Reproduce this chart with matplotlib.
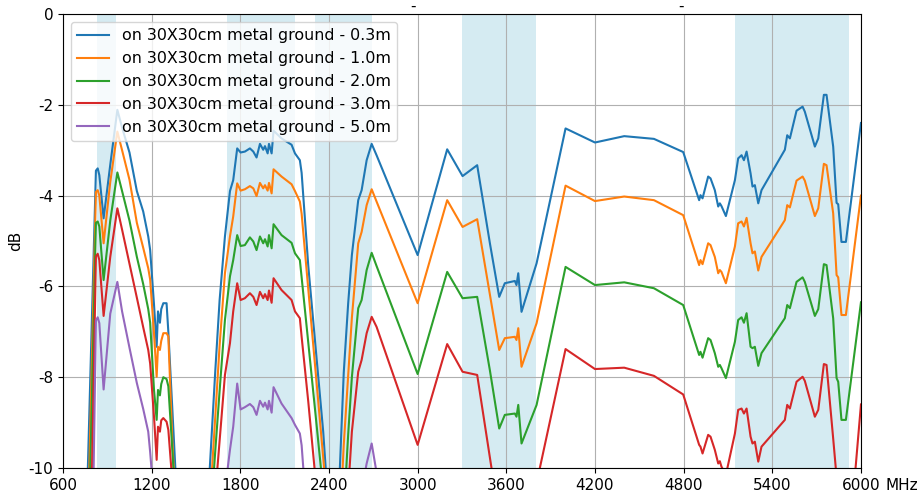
import numpy as np
import matplotlib
matplotlib.use('Agg')
from matplotlib import pyplot as plt

nan = np.nan

# frequency points (MHz) shared by all curves
freq = [760, 823, 835, 846, 875, 920, 968, 1000, 1050, 1100, 1143, 1177, 1190, 1216, 1234, 1243,
        1256, 1265, 1279, 1301, 1313, 1340, 1365, 1480,
        1590, 1630, 1660, 1696, 1730, 1752, 1779, 1802, 1831, 1865, 1888, 1910, 1933, 1955, 1967,
        1985, 1994, 2012, 2025, 2079, 2147, 2170, 2203, 2215, 2260, 2305, 2361, 2384, 2430,
        2470, 2500, 2530, 2555, 2598, 2621, 2655, 2689, 2722, 3000, 3200, 3304, 3403, 3489, 3552,
        3590, 3658, 3669, 3681, 3703, 3805, 4001, 4200, 4398, 4599, 4797, 4905, 4914, 4928, 4966,
        4982, 5011, 5034, 5045, 5056, 5086, 5147, 5169, 5192, 5208, 5226, 5253, 5266, 5282, 5305,
        5327, 5485, 5501, 5519, 5564, 5605, 5620, 5688, 5711, 5749, 5767, 5812, 5835, 5846, 5868,
        5898, 6000]

gain_03m = [-11.0, -3.45, -3.40, -3.55, -4.50, -3.32, -2.11, -2.50, -3.05, -3.90, -4.35, -4.90, -5.20, -6.40, -7.33, -6.55,
            -6.80, -6.50, -6.37, -6.37, -7.00, -8.70, -10.30, nan,
            -10.20, -7.90, -6.30, -4.90, -3.90, -3.66, -2.96, -3.05, -3.03, -2.96, -3.03, -3.16, -2.86, -2.99, -2.91,
            -3.07, -2.86, -3.07, -2.57, -2.74, -2.88, -3.07, -3.22, -3.50, -5.55, -7.18, -9.20, -10.30, nan,
            -10.30, -7.90, -6.37, -5.31, -4.10, -3.88, -3.22, -2.86, -3.11, -5.31, -2.98, -3.57, -3.33, -5.05, -6.23,
            -5.93, -5.88, -5.97, -5.71, -6.56, -5.49, -2.52, -2.83, -2.69, -2.75, -3.04, -4.10, -3.99, -4.06, -3.58,
            -3.62, -3.88, -4.24, -4.17, -4.23, -4.45, -3.66, -3.18, -3.11, -3.22, -3.03, -3.51, -3.80, -3.77, -4.17,
            -3.88, -2.99, -2.67, -2.74, -2.13, -2.04, -2.15, -2.92, -2.74, -1.78, -1.78, -2.92, -4.16, -4.19, -5.02,
            -5.02, -2.40]

gain_10m = [-12.5, -3.92, -3.88, -4.00, -5.05, -3.70, -2.59, -3.00, -3.65, -4.60, -5.15, -5.60, -5.85, -7.03, -7.99, -7.33,
            -7.40, -7.20, -7.03, -7.03, -7.10, -9.40, -11.0, nan,
            -11.0, -8.90, -7.30, -5.71, -4.90, -4.46, -3.73, -3.89, -3.86, -3.79, -3.84, -4.01, -3.72, -3.84, -3.77,
            -3.89, -3.72, -3.95, -3.42, -3.58, -3.75, -3.90, -4.13, -4.40, -6.06, -7.71, -9.77, -10.6, nan,
            -11.5, -9.49, -7.96, -6.69, -5.05, -4.80, -4.21, -3.86, -4.13, -6.37, -4.10, -4.69, -4.52, -6.18, -7.40,
            -7.14, -7.11, -7.18, -6.92, -7.77, -6.81, -3.78, -4.12, -4.02, -4.10, -4.43, -5.53, -5.42, -5.51, -5.05,
            -5.09, -5.35, -5.71, -5.64, -5.68, -5.93, -5.12, -4.61, -4.57, -4.68, -4.49, -5.05, -5.27, -5.23, -5.65,
            -5.35, -4.54, -4.21, -4.26, -3.67, -3.58, -3.67, -4.45, -4.28, -3.30, -3.33, -4.39, -5.75, -5.80, -6.63,
            -6.63, -4.00]

gain_20m = [-13.5, -4.60, -4.57, -4.68, -5.86, -4.55, -3.49, -3.90, -4.55, -5.35, -5.95, -6.50, -6.80, -8.28, -8.94, -8.28,
            -8.40, -8.15, -8.00, -8.04, -8.20, -9.60, -11.0, nan,
            -11.5, -9.65, -8.30, -6.74, -5.78, -5.42, -4.87, -5.11, -5.09, -4.92, -5.01, -5.20, -4.90, -5.05, -4.96,
            -5.12, -4.87, -5.16, -4.63, -4.87, -5.04, -5.27, -5.42, -5.80, -7.24, -8.69, -10.5, nan, nan,
            -12.5, -11.0, -9.26, -8.00, -6.48, -6.30, -5.64, -5.26, -5.55, -7.93, -5.68, -6.26, -6.23, -7.85, -9.13,
            -8.83, -8.80, -8.87, -8.61, -9.46, -8.61, -5.57, -5.97, -5.91, -6.04, -6.41, -7.51, -7.44, -7.57, -7.14,
            -7.18, -7.47, -7.77, -7.73, -7.80, -8.02, -7.22, -6.74, -6.68, -6.80, -6.59, -7.33, -7.36, -7.33, -7.75,
            -7.47, -6.70, -6.41, -6.48, -5.90, -5.80, -5.90, -6.65, -6.50, -5.51, -5.53, -6.70, -8.02, -8.10, -8.94,
            -8.94, -6.35]

gain_30m = [-16.5, -5.34, -5.28, -5.42, -6.65, -5.35, -4.28, -4.75, -5.50, -6.25, -6.90, -7.40, -7.70, -8.87, -9.82, -9.09,
            -9.20, -8.95, -8.90, -8.98, -9.16, -10.3, nan, nan,
            -12.0, -10.6, -9.40, -7.95, -7.25, -6.55, -5.93, -6.30, -6.26, -6.15, -6.23, -6.41, -6.12, -6.26, -6.17,
            -6.30, -6.09, -6.36, -5.82, -6.08, -6.30, -6.55, -6.70, -7.11, -8.54, -10.1, nan, nan, nan,
            nan, -12.0, -10.5, -9.20, -7.88, -7.62, -7.03, -6.67, -6.89, -9.49, -7.27, -7.88, -7.95, -9.77, -11.1,
            nan, nan, nan, nan, nan, -10.33, -7.38, -7.82, -7.79, -7.97, -8.38, -9.49, -9.53, -9.68, -9.27,
            -9.31, -9.60, -9.90, -9.85, -9.97, -10.15, -9.24, -8.72, -8.69, -8.80, -8.69, -9.31, -9.46, -9.42, -9.86,
            -9.53, -8.94, -8.61, -8.69, -8.10, -7.99, -8.08, -8.87, -8.72, -7.71, -7.73, -9.35, -10.2, -10.6, -11.5,
            -12.5, -8.60]

gain_50m = [-20.0, -6.75, -6.68, -6.81, -8.27, -6.60, -5.90, -6.55, -7.35, -8.13, -8.70, -9.20, -9.65, -10.7, nan, nan,
            nan, nan, nan, nan, nan, nan, nan, nan,
            nan, nan, nan, -10.5, -9.60, -9.09, -8.14, -8.71, -8.66, -8.59, -8.66, -8.83, -8.52, -8.65, -8.56,
            -8.71, -8.52, -8.78, -8.22, -8.58, -8.90, -9.05, -9.24, -9.50, -11.5, nan, nan, nan, nan,
            nan, nan, nan, nan, nan, -10.5, -9.90, -9.46, -10.1, nan, nan, nan, nan, nan, nan,
            nan, nan, nan, nan, nan, nan, nan, nan, nan, nan, nan, nan, nan, nan, nan,
            nan, nan, nan, nan, nan, nan, nan, nan, nan, nan, nan, nan, nan, nan, nan,
            nan, nan, nan, nan, nan, nan, nan, nan, nan, nan, nan, nan, nan, nan, nan,
            nan, nan]

labels = ['on 30X30cm metal ground - 0.3m', 'on 30X30cm metal ground - 1.0m',
          'on 30X30cm metal ground - 2.0m', 'on 30X30cm metal ground - 3.0m',
          'on 30X30cm metal ground - 5.0m']

# shaded operating bands (MHz)
bands = [(830, 962), (1712, 2170), (2305, 2690), (3302, 3800), (5150, 5920)]

xticks = [600, 1200, 1800, 2400, 3000, 3600, 4200, 4800, 5400, 6000]
yticks = [0, -2, -4, -6, -8, -10]

plt.rcParams['font.size'] = 11

fig = plt.figure(figsize=(9.22, 4.99), dpi=100)
ax = fig.add_axes([0.0683, 0.0621, 0.8655, 0.9098])

for lo, hi in bands:
    ax.axvspan(lo, hi, color='lightblue', alpha=0.5, lw=0)

for series, label in zip([gain_03m, gain_10m, gain_20m, gain_30m, gain_50m], labels):
    ax.plot(freq, series, label=label, lw=1.5)

ax.set_xlim(600, 6000)
ax.set_ylim(-10, 0)
ax.set_xticks(xticks)
ax.set_xticklabels([str(t) for t in xticks])
ax.set_yticks(yticks)
ax.set_yticklabels([str(t) for t in yticks])
ax.grid(True)
ax.set_ylabel('dB')

ax.annotate('MHz', xy=(6000, 0), xycoords=('data', 'axes fraction'), xytext=(18, -7),
            textcoords='offset points', ha='left', va='top')

# two small dashes above the plot area
for x in [2968, 4781]:
    ax.text(x, 0.07, '-', ha='center', va='baseline', clip_on=False)

ax.legend(loc='upper left', fontsize=11.4)

fig.savefig('out.png', dpi=100)
